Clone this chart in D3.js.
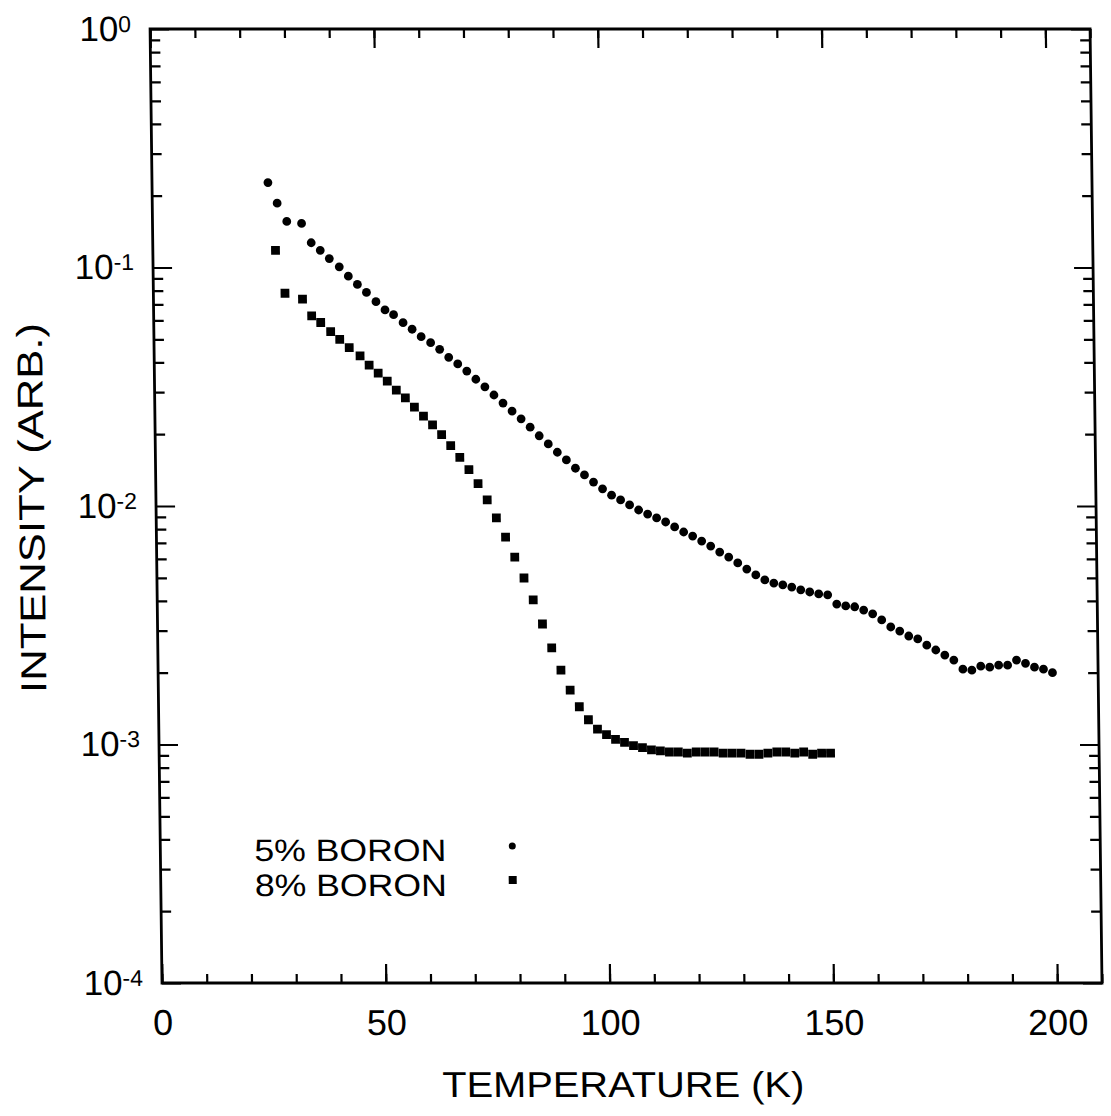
<!DOCTYPE html>
<html><head><meta charset="utf-8">
<script src="https://cdn.jsdelivr.net/npm/d3@7"></script>
<style>body{margin:0;background:#fff;} text{font-family:"Liberation Sans",Arial,sans-serif;fill:#000;}</style>
</head><body>
<svg id="c" width="1111" height="1116"></svg>
<script>
// 5% boron (circles)
const temp5 = [25.9,27.9,30.0,33.3,35.4,37.4,39.4,41.6,43.6,45.6,47.6,49.7,51.7,53.6,55.7,57.7,59.7,61.8,63.8,65.8,
  67.8,69.8,71.8,73.8,75.8,77.8,79.8,81.8,83.8,85.8,87.8,89.8,91.8,93.8,95.8,97.8,99.8,101.8,103.8,105.8,
  107.8,109.8,111.8,113.8,115.8,117.8,119.8,121.8,123.8,125.8,127.8,129.8,131.8,133.8,135.8,137.8,139.8,141.8,143.8,145.8,
  147.8,149.8,151.8,153.8,155.8,157.8,159.8,161.8,163.8,165.8,167.8,169.8,171.8,173.8,175.8,177.8,179.8,181.8,183.8,185.8,
  187.8,189.8,191.8,193.8,195.8,197.8,199.8];
const int5 = [0.227,0.186,0.156,0.153,0.127,0.118,0.109,0.1007,0.092,0.0849,0.0786,0.0719,0.0664,0.0634,0.0587,0.0551,0.0513,0.0484,0.0454,0.0420,
  0.0394,0.0368,0.0340,0.0316,0.0292,0.0270,0.0250,0.0232,0.0214,0.0197,0.0182,0.0168,0.0156,0.0144,0.0135,0.0126,0.0118,0.0111,0.0106,0.0101,
  0.00962,0.00925,0.00891,0.00857,0.00817,0.00778,0.00748,0.00713,0.00679,0.00641,0.00611,0.00577,0.00544,0.00514,0.00490,0.00475,0.00467,0.00457,0.00445,0.00436,
  0.00428,0.00424,0.00388,0.00381,0.00378,0.00366,0.00353,0.00333,0.00311,0.00299,0.00285,0.00277,0.00261,0.00249,0.00237,0.00226,0.00207,0.00205,0.00213,0.00211,
  0.00215,0.00215,0.00226,0.00219,0.00211,0.00207,0.00200];
// 8% boron (squares)
const temp8 = [27.4,29.4,33.3,35.3,37.3,39.5,41.5,43.6,46.0,48.0,50.0,52.0,54.0,56.0,58.0,60.0,62.0,64.0,66.0,68.0,
  70.0,72.0,74.0,76.0,78.0,80.0,82.0,84.0,86.0,88.0,90.0,92.0,94.0,96.0,98.0,100.0,102.0,104.0,106.0,108.0,
  110.0,112.0,114.0,116.0,118.0,120.0,122.0,124.0,126.0,128.0,130.0,132.0,134.0,136.0,138.0,140.0,142.0,144.0,146.0,148.0,150.0];
const int8 = [0.118,0.078,0.0737,0.0627,0.0588,0.0538,0.0500,0.0461,0.0426,0.0390,0.0361,0.0334,0.0306,0.0284,0.0260,0.0238,0.0219,0.0199,0.0179,0.0160,
  0.0142,0.0124,0.0106,0.00891,0.00741,0.00611,0.00499,0.00404,0.00320,0.00254,0.00205,0.00169,0.00144,0.00127,0.00116,0.00110,0.00105,0.00102,0.00099,0.00097,
  0.00095,0.00094,0.00093,0.00093,0.00092,0.00093,0.00093,0.00093,0.00092,0.00092,0.00092,0.00091,0.00091,0.00092,0.00093,0.00093,0.00092,0.00093,0.00091,0.00092,0.00092];

const xTicksMajor = [0,50,100,150,200];
const yDecades = [1e-4,1e-3,1e-2,1e-1,1];
const yTickLabels = ["-4","-3","-2","-1","0"];
const legendLabels = ["5% BORON","8% BORON"];
const xTitle = "TEMPERATURE (K)";
const yTitle = "INTENSITY (ARB.)";

const X0=162, X1=1102, Y0=29, Y1=983, SK=0.0125;
const svg = d3.select("#c");
const g = svg.append("g").attr("transform",`matrix(1,0,${SK},1,${-SK*Y1},0)`);
const x = d3.scaleLinear().domain([0,210]).range([X0,X1]);
const y = d3.scaleLog().domain([1e-4,1]).range([Y1,Y0]);

const minorX = d3.range(0,211,10);
const minorY = [];
for (let e=-4;e<0;e++) for (let k=2;k<=9;k++) minorY.push(k*Math.pow(10,e));

const axBottom = d3.axisBottom(x).tickValues(minorX).tickSizeInner(-9).tickSizeOuter(0).tickFormat("");
const axTop = d3.axisTop(x).tickValues(minorX).tickSizeInner(-9).tickSizeOuter(0).tickFormat("");
const axBottomM = d3.axisBottom(x).tickValues(xTicksMajor).tickSizeInner(-19).tickSizeOuter(0).tickPadding(26).tickFormat(d3.format("d"));
const axTopM = d3.axisTop(x).tickValues(xTicksMajor).tickSizeInner(-19).tickSizeOuter(0).tickFormat("");
const axLeft = d3.axisLeft(y).tickValues(minorY).tickSizeInner(-10).tickSizeOuter(0).tickFormat("");
const axRight = d3.axisRight(y).tickValues(minorY).tickSizeInner(-10).tickSizeOuter(0).tickFormat("");
const axLeftM = d3.axisLeft(y).tickValues(yDecades).tickSizeInner(-19).tickSizeOuter(0).tickFormat("");
const axRightM = d3.axisRight(y).tickValues(yDecades).tickSizeInner(-19).tickSizeOuter(0).tickFormat("");

function put(ax, tr){ const a=g.append("g").attr("transform",tr).call(ax); a.select(".domain").remove(); a.selectAll("line").attr("stroke","#000").attr("stroke-width",2.2); return a; }
put(axBottom,`translate(0,${Y1})`); put(axTop,`translate(0,${Y0})`);
const bm = put(axBottomM,`translate(0,${Y1})`); put(axTopM,`translate(0,${Y0})`);
put(axLeft,`translate(${X0},0)`); put(axRight,`translate(${X1},0)`);
put(axLeftM,`translate(${X0},0)`); put(axRightM,`translate(${X1},0)`);
bm.selectAll("text").attr("font-size",36).attr("font-family","Liberation Sans, Arial").attr("fill","#000").attr("dy","0.71em");

yDecades.forEach((d,i)=>{
  const t = g.append("text").attr("x",X0-19).attr("y",y(d)+12).attr("text-anchor","end").attr("font-size",35);
  t.append("tspan").text("10");
  t.append("tspan").attr("dy",-9).attr("font-size",23).text(yTickLabels[i]);
});

g.append("rect").attr("x",X0).attr("y",Y0).attr("width",X1-X0).attr("height",Y1-Y0)
  .attr("fill","none").attr("stroke","#000").attr("stroke-width",2.8);

const d5 = temp5.map((t,i)=>({t, v:int5[i]}));
const d8 = temp8.map((t,i)=>({t, v:int8[i]}));
g.append("g").selectAll("circle").data(d5).join("circle")
  .attr("cx",d=>x(d.t)).attr("cy",d=>y(d.v)).attr("r",4.4).attr("fill","#000");
g.append("g").selectAll("rect").data(d8).join("rect")
  .attr("x",d=>x(d.t)-4.4).attr("y",d=>y(d.v)-4.4).attr("width",8.8).attr("height",8.8).attr("fill","#000");

const leg = g.append("g");
legendLabels.forEach((l,i)=>{
  leg.append("text").attr("x",256).attr("y",861+i*35).attr("font-size",31)
    .attr("textLength",192).attr("lengthAdjust","spacingAndGlyphs").text(l);
});
leg.append("circle").attr("cx",514).attr("cy",846).attr("r",3.5).attr("fill","#000");
leg.append("rect").attr("x",510).attr("y",876).attr("width",8).attr("height",8).attr("fill","#000");

g.append("text").attr("x",(X0+X1)/2-10).attr("y",1097).attr("text-anchor","middle").attr("font-size",36)
  .attr("textLength",362).attr("lengthAdjust","spacingAndGlyphs").text(xTitle);
g.append("text").attr("transform",`translate(50,${(Y0+Y1)/2+2}) rotate(-90)`).attr("text-anchor","middle").attr("font-size",36)
  .attr("textLength",370).attr("lengthAdjust","spacingAndGlyphs").text(yTitle);
</script>
</body></html>
